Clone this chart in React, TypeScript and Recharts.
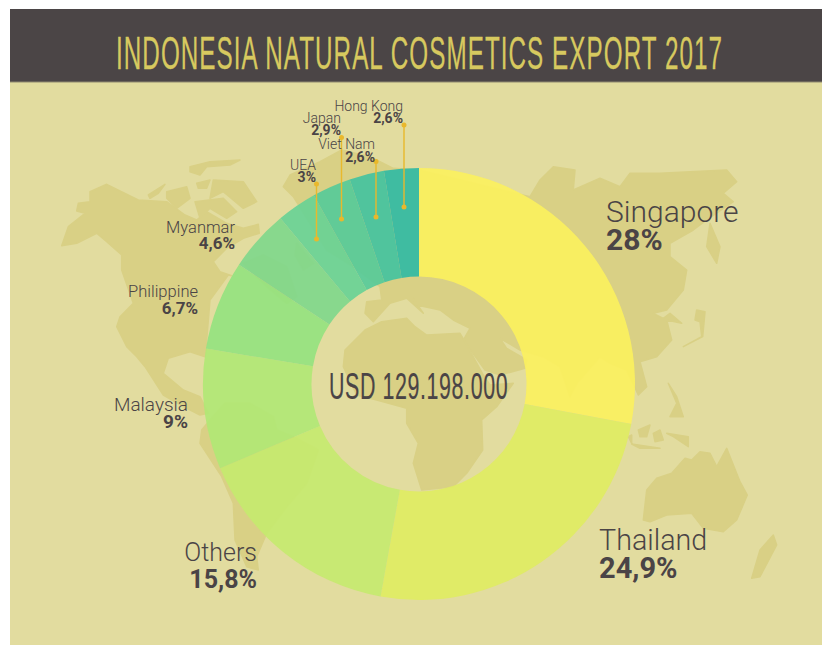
import { PieChart, Pie, Cell } from "recharts";

const countries = ["Singapore", "Thailand", "Others", "Malaysia", "Philippine", "Myanmar", "UEA", "Japan", "Viet Nam", "Hong Kong"];
const shares = [28, 24.9, 15.8, 9, 6.7, 4.6, 3, 2.9, 2.6, 2.6];
const sliceColors = ["#fbf05e", "#e0eb62", "#c6e96f", "#b1e775", "#95e27f", "#80d78b", "#69d195", "#57ca99", "#44c29f", "#32baa4"];

const pieData = countries.map((name, i) => ({ name, value: shares[i] }));

// label placement: x, name baseline, value baseline, font size, anchor
const labelSpots: [number, number, number, number, number, "start" | "end"][] = [
  [606, 222, 250, 30, 30, "start"],
  [599, 550, 578, 28.7, 29, "start"],
  [257, 561, 588, 25, 25, "end"],
  [188, 411, 428, 19, 19, "end"],
  [198, 297, 314, 16.5, 17, "end"],
  [235, 233, 249, 16.5, 17, "end"],
  [316, 170, 182, 14, 14, "end"],
  [341, 123, 135, 14, 14, "end"],
  [375, 149, 162, 14, 14, "end"],
  [403, 111, 123, 14, 14, "end"],
];

// leader lines for the small slices: x, top, bottom
const leaders = [
  [316.5, 184, 239],
  [341.5, 137.5, 219],
  [376, 161.5, 217],
  [404, 125, 207],
];

const fromCrop = (ox: number, oy: number, pts: number[]) =>
  pts
    .reduce<string[]>((acc, v, i) => {
      if (i % 2 === 0) acc.push(`${(ox + v / 3).toFixed(1)},${(oy + pts[i + 1] / 3).toFixed(1)}`);
      return acc;
    }, [])
    .join(" ");

// rough world map backdrop at 3x
const landShapes = [
  // North America
  fromCrop(10, 85, [155, 482, 175, 425, 225, 385, 200, 378, 205, 355, 240, 350, 240, 320, 290, 298, 385, 345, 470, 350, 525, 390, 560, 405, 590, 380, 650, 415, 700, 430, 745, 418, 748, 445, 700, 460, 650, 490, 610, 530, 630, 560, 665, 572]) +
    " " +
    fromCrop(100, 200, [385, 225, 330, 300, 318, 445, 315, 470, 270, 455, 205, 475, 190, 520, 250, 570, 300, 590, 325, 640, 300, 645, 250, 620, 190, 585, 135, 500, 110, 470, 80, 440, 50, 380, 60, 350, 100, 310, 65, 210, 65, 150]) +
    " " +
    fromCrop(10, 85, [335, 510, 290, 470, 260, 445, 200, 475]),
  // Arctic islands
  fromCrop(10, 85, [415, 330, 465, 298, 445, 325, 420, 340]),
  fromCrop(10, 85, [540, 245, 600, 230, 690, 225, 660, 240, 590, 245, 570, 270, 540, 260]),
  fromCrop(10, 85, [470, 320, 530, 305, 540, 340, 500, 370, 470, 340]),
  fromCrop(10, 85, [560, 295, 600, 285, 590, 310, 565, 310]),
  fromCrop(10, 85, [610, 285, 700, 290, 740, 350, 700, 370, 640, 320, 600, 340]),
  fromCrop(10, 85, [555, 350, 640, 340, 680, 380, 650, 400, 600, 370, 570, 400]),
  // Greenland and UK
  fromCrop(100, 200, [430, 190, 490, 165, 560, 200, 590, 290, 560, 310, 500, 260]),
  fromCrop(100, 200, [590, 130, 640, 190, 610, 210, 585, 165]),
  // Eurasia
  fromCrop(260, 90, [70, 290, 90, 255, 180, 215, 245, 180, 330, 200, 400, 235, 476, 240]) +
    " " +
    fromCrop(520, 140, [30, 170, 60, 120, 100, 80, 165, 90, 160, 150, 240, 115, 300, 140, 330, 100, 420, 100, 510, 95, 620, 90, 650, 125, 610, 160, 640, 185, 560, 240, 520, 270, 450, 310, 450, 350, 500, 390, 490, 450, 440, 510, 400, 520, 430, 535, 450, 520, 485, 550, 440, 540, 455, 600, 410, 650, 360, 665, 380, 740, 355, 765, 320, 690, 270, 670, 240, 650, 170, 730, 150, 770, 120, 680, 70, 650]) +
    " " +
    fromCrop(300, 270, [660, 240, 600, 205, 620, 235, 680, 270, 675, 295, 600, 315, 555, 300, 490, 210, 510, 175, 460, 150, 420, 120, 350, 105, 335, 80, 370, 130, 320, 85, 270, 100, 220, 155, 195, 130, 200, 95, 245, 90, 240, 50, 160, -10, 80, -60]) +
    " " +
    fromCrop(260, 90, [100, 320]),
  // Africa
  fromCrop(300, 270, [245, 155, 320, 145, 345, 170, 380, 195, 480, 190, 495, 215, 550, 315, 570, 345, 640, 340, 590, 410, 545, 450, 548, 540, 500, 610, 460, 650, 365, 660, 340, 580, 355, 520, 320, 460, 320, 415, 230, 390, 170, 375, 130, 290, 135, 240, 195, 180]),
  // South America
  fromCrop(150, 400, [155, 90, 150, 130, 215, 230, 250, 310, 255, 420, 290, 500, 325, 510, 320, 470, 350, 400, 410, 320, 470, 250, 505, 150, 440, 115, 380, 90, 370, 50, 300, 10, 225, 10, 180, 60]),
  // Australia
  fromCrop(560, 420, [250, 300, 260, 210, 290, 175, 335, 160, 375, 115, 395, 120, 420, 95, 450, 100, 470, 140, 500, 85, 540, 185, 562, 225, 530, 300, 490, 335, 430, 325, 395, 280, 320, 285, 270, 305]),
  fromCrop(560, 420, [640, 345, 650, 375, 600, 470, 575, 475, 600, 390]),
  // Indonesia
  fromCrop(560, 420, [205, 50, 215, 45, 215, 70]),
  fromCrop(560, 420, [235, 30, 270, 15, 260, 50, 240, 50]),
  fromCrop(560, 420, [280, 40, 300, 30, 310, 60, 285, 65]),
  fromCrop(560, 420, [320, 40, 385, 50, 385, 80, 340, 50]),
  fromCrop(560, 420, [215, 72, 300, 85, 240, 85]),
  // Sakhalin, Japan, Philippines
  fromCrop(520, 140, [570, 250, 600, 320, 590, 370, 560, 320]),
  fromCrop(520, 140, [490, 620, 545, 590, 540, 545, 525, 540, 530, 510, 555, 515, 548, 590]),
  fromCrop(520, 140, [445, 730, 470, 770, 490, 830, 450, 830, 470, 790]),
];

const layer = { position: "absolute", left: 0, top: 0 } as const;
const labelFont = "Roboto, 'Noto Sans', sans-serif";
const narrowFont = "'Liberation Sans', sans-serif";
const ink = "#4a4446";
const amber = "#e9b82c";

export default function App() {
  return (
    <div style={{ position: "absolute", left: 0, top: 0, width: 822, height: 645, background: "#fff", overflow: "hidden" }}>
      <svg width={822} height={645} style={layer}>
        <rect x={10} y={9} width={812} height={636} fill="#e2dc9f" />
        <rect x={10} y={9} width={812} height={73} fill="#4b4546" />
        <rect x={10} y={81.5} width={812} height={1} fill="#8f8a70" />
        {landShapes.map((pts, i) => (
          <polygon key={i} points={pts} fill="#d9d085" stroke="#d9d085" strokeWidth={1.5} strokeLinejoin="round" />
        ))}
      </svg>

      <div style={layer}>
        <PieChart width={822} height={645} margin={{ top: 0, right: 0, bottom: 0, left: 0 }}>
          <Pie
            data={pieData}
            dataKey="value"
            nameKey="name"
            cx={419}
            cy={384}
            innerRadius={107.5}
            outerRadius={216}
            startAngle={90}
            endAngle={-270}
            stroke="none"
            isAnimationActive={false}
          >
            {pieData.map((d, i) => (
              <Cell key={d.name} fill={sliceColors[i]} fillOpacity={0.92} />
            ))}
          </Pie>
        </PieChart>
      </div>

      <svg width={822} height={645} style={layer}>
        <text
          transform="translate(116 69) scale(0.527 1)"
          fontFamily={narrowFont}
          fontSize={46}
          letterSpacing={2}
          fill="#d7c95f"
          stroke="#d7c95f"
          strokeWidth={0.3}
        >
          INDONESIA NATURAL COSMETICS EXPORT 2017
        </text>
        <text
          transform="translate(329 399) scale(0.595 1)"
          fontFamily={narrowFont}
          fontSize={36}
          letterSpacing={1}
          fill={ink}
          stroke={ink}
          strokeWidth={0.2}
        >
          USD 129.198.000
        </text>

        {leaders.map(([x, top, bottom]) => (
          <g key={x}>
            <line x1={x} x2={x} y1={top} y2={bottom} stroke={amber} strokeWidth={1.4} />
            <circle cx={x} cy={top} r={2.5} fill={amber} />
            <circle cx={x} cy={bottom} r={2.5} fill={amber} />
          </g>
        ))}

        {countries.map((name, i) => {
          const [x, nameY, valueY, nameSize, valueSize, anchor] = labelSpots[i];
          return (
            <g key={name} textAnchor={anchor} fontFamily={labelFont} fill={ink}>
              <text x={x} y={nameY} fontSize={nameSize} fontWeight={300}>
                {name}
              </text>
              <text x={x} y={valueY} fontSize={valueSize} fontWeight={700}>
                {`${shares[i]}%`.replace(".", ",")}
              </text>
            </g>
          );
        })}
      </svg>
    </div>
  );
}
